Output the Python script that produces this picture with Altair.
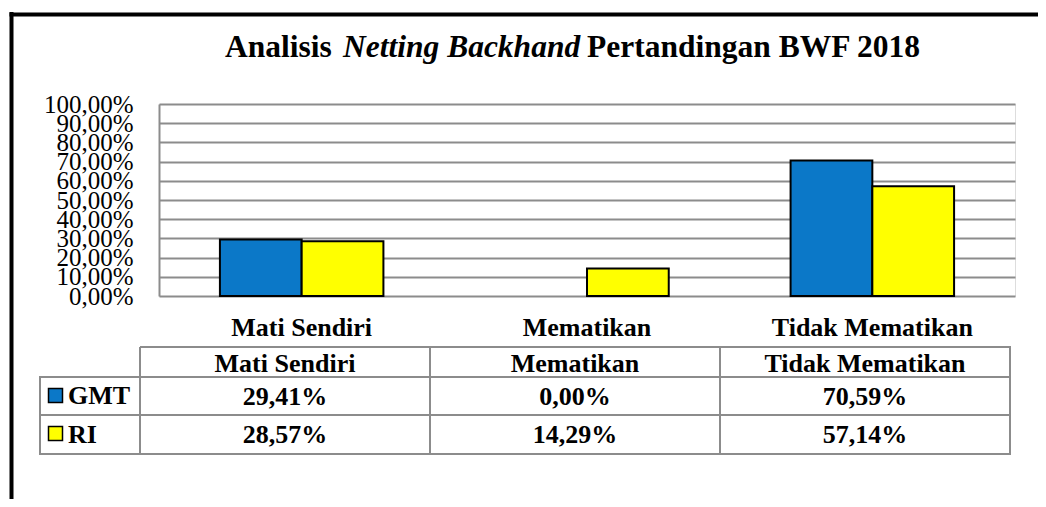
import altair as alt
import pandas as pd

categories = ["Mati Sendiri", "Mematikan", "Tidak Mematikan"]
series = ["GMT", "RI"]
gmt_values = [0.2941, 0.0, 0.7059]
ri_values = [0.2857, 0.1429, 0.5714]
y_ticks = [0.0, 0.1, 0.2, 0.3, 0.4, 0.5, 0.6, 0.7, 0.8, 0.9, 1.0]
title_parts = ["Analisis", "Netting Backhand", "Pertandingan BWF 2018"]
colors = ["#0B78C8", "#FFFF00"]

rows = []
for s, vals in zip(series, [gmt_values, ri_values]):
    for c, v in zip(categories, vals):
        rows.append({"cat": c, "series": s, "value": v})
df = pd.DataFrame(rows)

FONT = "Liberation Serif"
GRID = "#8c8c8c"
PCT = "replace(format(datum.value, '.2%'), '.', ',')"

bars = alt.Chart(df).transform_filter("datum.value > 0").mark_bar(
    stroke="black", strokeWidth=2
).encode(
    x=alt.X("cat:N", sort=categories,
            scale=alt.Scale(domain=categories, paddingInner=0.427, paddingOuter=0.2135),
            axis=alt.Axis(title=None, labelAngle=0, domain=False, ticks=False, tickSize=0,
                          labelPadding=39, labelBaseline="alphabetic", labelFont=FONT,
                          labelLimit=0, labelOverlap=False,
                          labelFontSize=26, labelFontWeight="bold", labelColor="black", grid=False)),
    xOffset=alt.XOffset("series:N", scale=alt.Scale(domain=series, paddingInner=0, paddingOuter=0)),
    y=alt.Y("value:Q", scale=alt.Scale(domain=[0, 1], nice=False, zero=True),
            axis=alt.Axis(title=None, values=y_ticks, labelExpr=PCT, labelOverlap=False,
                          labelFlush=False, labelBound=False, ticks=False, tickSize=0,
                          labelPadding=26, labelFont=FONT, labelFontSize=25, labelColor="black",
                          domainColor=GRID, domainWidth=2, gridColor=GRID, gridWidth=2)),
    fill=alt.Fill("series:N", scale=alt.Scale(domain=series, range=colors), legend=None),
)

table_x = alt.X("cat:N", sort=categories,
                scale=alt.Scale(domain=categories, range=[-19, 851], paddingInner=0, paddingOuter=0),
                axis=None)

header = alt.Chart(pd.DataFrame({"cat": categories})).mark_text(
    font=FONT, fontSize=26, fontWeight="bold", color="black", baseline="alphabetic"
).encode(x=table_x, y=alt.value(268), text="cat:N")

value_layers = []
for s, yb in zip(series, [301, 339]):
    value_layers.append(
        alt.Chart(df).transform_filter(alt.datum.series == s)
        .transform_calculate(label=PCT)
        .mark_text(font=FONT, fontSize=26, fontWeight="bold", color="black", baseline="alphabetic")
        .encode(x=table_x, y=alt.value(yb), text="label:N")
    )

label_layers = []
for s, c, yb, ys in zip(series, colors, [300, 339], [291.5, 329.5]):
    label_layers.append(
        alt.Chart(pd.DataFrame({"series": [s]})).mark_text(
            font=FONT, fontSize=26, fontWeight="bold", color="black", align="left", baseline="alphabetic"
        ).encode(x=alt.value(-91), y=alt.value(yb), text="series:N")
    )
    label_layers.append(
        alt.Chart(pd.DataFrame({"series": [s]})).mark_square(
            size=196, fill=c, opacity=1, stroke="black", strokeWidth=1.5
        ).encode(x=alt.value(-103.5), y=alt.value(ys))
    )

one = pd.DataFrame({"k": [0]})


def hline(y, x1, x2, color=GRID, w=2):
    return alt.Chart(one).mark_rule(color=color, strokeWidth=w).encode(
        x=alt.value(x1), x2=alt.value(x2), y=alt.value(y))


def vline(x, y1, y2, color=GRID, w=2):
    return alt.Chart(one).mark_rule(color=color, strokeWidth=w).encode(
        x=alt.value(x), y=alt.value(y1), y2=alt.value(y2))


rules = [
    hline(243, -19, 852), hline(273, -120, 852), hline(311, -120, 852), hline(350, -120, 852),
    vline(-119, 273, 351), vline(-19, 243, 351), vline(271, 243, 351), vline(561, 243, 351),
    vline(851, 243, 351),
    hline(-89.5, -149.5, 890, color="black", w=4),
    vline(-147.5, -92, 400, color="black", w=4),
]

title_layers = []
for txt, x, style in zip(title_parts, [66, 184, 428], ["normal", "italic", "normal"]):
    title_layers.append(
        alt.Chart(pd.DataFrame({"t": [txt]})).mark_text(
            font=FONT, fontSize=31.5, fontWeight="bold", fontStyle=style, color="black",
            align="left", baseline="alphabetic"
        ).encode(x=alt.value(x), y=alt.value(-47.5), text="t:N")
    )

chart = alt.layer(
    bars, header, *value_layers, *label_layers, *rules, *title_layers
).resolve_scale(x="independent").properties(
    width=856, height=192,
    autosize=alt.AutoSizeParams(type="none"),
    padding={"left": 151, "top": 96, "right": 23, "bottom": 203},
).configure_view(strokeWidth=0).configure(background="white")

chart.save("out.html", embed_options={"renderer": "svg", "actions": False})
